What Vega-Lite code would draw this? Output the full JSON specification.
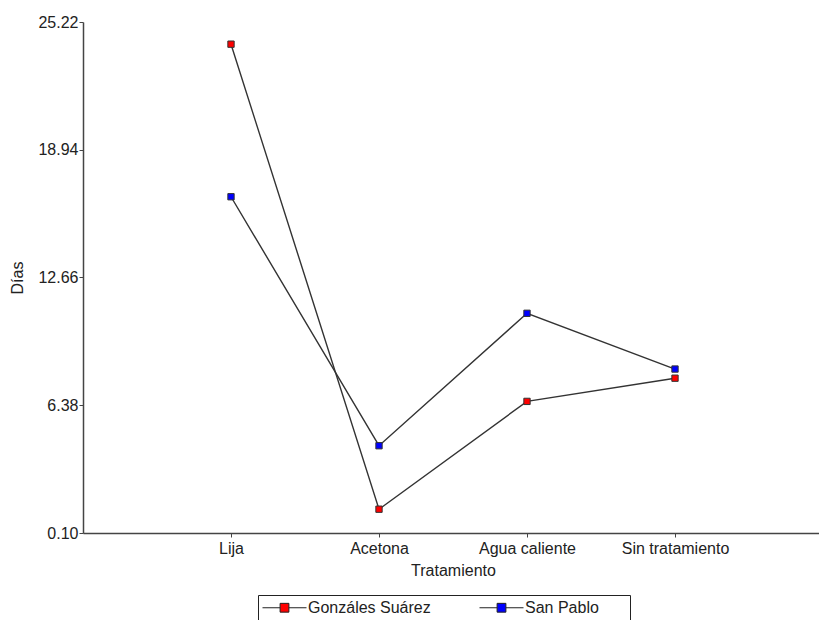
{
  "$schema": "https://vega.github.io/schema/vega-lite/v6.json",
  "autosize": "none",
  "width": 740,
  "height": 511,
  "padding": {"left": 83, "top": 22, "right": 0, "bottom": 87},
  "background": "white",
  "config": {
    "view": {"stroke": null},
    "font": "Liberation Sans",
    "axis": {"labelFont": "Liberation Sans", "titleFont": "Liberation Sans", "labelFontSize": 16, "titleFontSize": 16, "titleFontWeight": "normal", "labelColor": "#222", "titleColor": "#222", "domainColor": "#444", "tickColor": "#444", "domainWidth": 1.5, "tickSize": 4, "grid": false},
    "legend": {"labelFont": "Liberation Sans", "labelFontSize": 16, "labelColor": "#222"}
  },
  "data": {
    "values": [
      {"Tratamiento": "Lija", "Localidad": "Gonzáles Suárez", "Dias": 24.13},
      {"Tratamiento": "Acetona", "Localidad": "Gonzáles Suárez", "Dias": 1.27},
      {"Tratamiento": "Agua caliente", "Localidad": "Gonzáles Suárez", "Dias": 6.57},
      {"Tratamiento": "Sin tratamiento", "Localidad": "Gonzáles Suárez", "Dias": 7.71},
      {"Tratamiento": "Lija", "Localidad": "San Pablo", "Dias": 16.63},
      {"Tratamiento": "Acetona", "Localidad": "San Pablo", "Dias": 4.39},
      {"Tratamiento": "Agua caliente", "Localidad": "San Pablo", "Dias": 10.9},
      {"Tratamiento": "Sin tratamiento", "Localidad": "San Pablo", "Dias": 8.16}
    ]
  },
  "encoding": {
    "x": {
      "field": "Tratamiento", "type": "ordinal",
      "sort": ["Lija", "Acetona", "Agua caliente", "Sin tratamiento"],
      "scale": {"type": "point", "padding": 1},
      "axis": {"title": "Tratamiento", "labelAngle": 0, "labelPadding": 3, "titlePadding": 6}
    },
    "y": {
      "field": "Dias", "type": "quantitative",
      "scale": {"domain": [0.1, 25.22], "nice": false, "zero": false},
      "axis": {"title": "Días", "values": [0.1, 6.38, 12.66, 18.94, 25.22], "format": ".2f", "labelPadding": 1, "titlePadding": 12}
    }
  },
  "layer": [
    {
      "mark": {"type": "line", "color": "#333", "strokeWidth": 1.4},
      "encoding": {"detail": {"field": "Localidad"}}
    },
    {
      "mark": {"type": "square", "filled": true, "size": 40, "stroke": "#333", "strokeWidth": 1, "opacity": 1},
      "encoding": {
        "color": {
          "field": "Localidad", "type": "nominal",
          "scale": {"domain": ["Gonzáles Suárez", "San Pablo"], "range": ["#ff0000", "#0000ff"]},
          "legend": {
            "title": null, "orient": "none", "direction": "horizontal",
            "legendX": 175, "legendY": 573,
            "strokeColor": "#222", "padding": 4,
            "symbolType": "M-1,0H1.2M2.3,0H4.5M1.2,-0.55H2.3V0.55H1.2Z",
            "symbolSize": 256, "symbolStrokeColor": "#222", "symbolStrokeWidth": 1,
            "symbolOpacity": 1, "labelOffset": 29, "columnPadding": 46,
            "labelExpr": "datum.label == 'San Pablo' ? datum.label + '\u00a0\u00a0\u00a0\u00a0\u00a0\u00a0\u200b' : datum.label"
          }
        }
      }
    }
  ]
}
